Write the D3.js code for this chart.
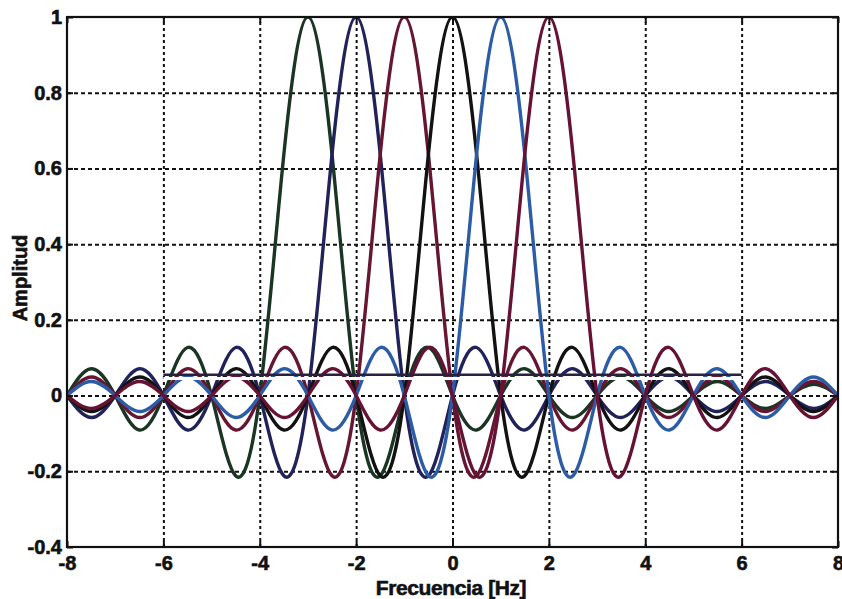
<!DOCTYPE html>
<html>
<head>
<meta charset="utf-8">
<script src="https://cdn.jsdelivr.net/npm/d3@7"></script>
<style>
  html, body { margin: 0; padding: 0; background: #fff; overflow: hidden; }
  svg text { font-family: "Liberation Sans", Arial, sans-serif; font-weight: bold; fill: #111; stroke: #111; stroke-width: 0.6px; }
</style>
</head>
<body>
<div class="container"></div>
<script>
var w = 842;
var h = 599;

// sample frequencies (Hz)
const freq = [-8,-7.5,-7,-6.5,-6,-5.5,-5,-4.5,-4,-3.5,-3,-2.5,-2,-1.5,-1,-0.5,0,0.5,1,1.5,2,2.5,3,3.5,4,4.5,5,5.5,6,6.5,7,7.5,8];

// amplitude of each curve (peaks at -3 .. 2 Hz)
const ampM3 = [0,0.071,0,-0.091,0,0.127,0,-0.212,0,0.637,1,0.637,0,-0.212,0,0.127,0,-0.091,0,0.071,0,-0.058,0,0.049,0,-0.042,0,0.037,0,-0.034,0,0.030,0];
const ampM2 = [0,-0.058,0,0.071,0,-0.091,0,0.127,0,-0.212,0,0.637,1,0.637,0,-0.212,0,0.127,0,-0.091,0,0.071,0,-0.058,0,0.049,0,-0.042,0,0.037,0,-0.034,0];
const ampM1 = [0,0.049,0,-0.058,0,0.071,0,-0.091,0,0.127,0,-0.212,0,0.637,1,0.637,0,-0.212,0,0.127,0,-0.091,0,0.071,0,-0.058,0,0.049,0,-0.042,0,0.037,0];
const amp0  = [0,-0.042,0,0.049,0,-0.058,0,0.071,0,-0.091,0,0.127,0,-0.212,0,0.637,1,0.637,0,-0.212,0,0.127,0,-0.091,0,0.071,0,-0.058,0,0.049,0,-0.042,0];
const amp1  = [0,0.037,0,-0.042,0,0.049,0,-0.058,0,0.071,0,-0.091,0,0.127,0,-0.212,0,0.637,1,0.637,0,-0.212,0,0.127,0,-0.091,0,0.071,0,-0.058,0,0.049,0];
const amp2  = [0,-0.034,0,0.037,0,-0.042,0,0.049,0,-0.058,0,0.071,0,-0.091,0,0.127,0,-0.212,0,0.637,1,0.637,0,-0.212,0,0.127,0,-0.091,0,0.071,0,-0.058,0];

const seriesList = [ampM3, ampM2, ampM1, amp0, amp1, amp2];
const seriesColors = ["#1a3524", "#22225a", "#661630", "#121212", "#2c5ca6", "#661234"];

// the horizontal level line (two-tone) from -6 to 6 Hz
const levelX = [-6, 6];
const levelDark = 0.055;
const levelWhite = 0.045;

const xTicks = [-8,-6,-4,-2,0,2,4,6,8];
const yTicks = [-0.4,-0.2,0,0.2,0.4,0.6,0.8,1];

const pLeft = 67, pRight = 838, pTop = 17, pBottom = 547;

var svg = d3.select(".container")
  .append("svg")
  .attr("width", w)
  .attr("height", h);

svg.append("rect")
  .attr("width", w).attr("height", h)
  .attr("fill", "#fff");

var xScale = d3.scaleLinear().domain([-8, 8]).range([pLeft, pRight]);
var yScale = d3.scaleLinear().domain([-0.4, 1]).range([pBottom, pTop]);

// grid
svg.append("g")
  .attr("transform", "translate(0," + pBottom + ")")
  .call(d3.axisBottom(xScale).tickValues(xTicks.slice(1, -1)).tickSize(-(pBottom - pTop)).tickFormat(""))
  .call(g => g.select(".domain").remove())
  .call(g => g.selectAll("line").attr("stroke", "#111").attr("stroke-width", 2).attr("stroke-dasharray", "3,3"));

svg.append("g")
  .attr("transform", "translate(" + pLeft + ",0)")
  .call(d3.axisLeft(yScale).tickValues(yTicks.slice(1, -1)).tickSize(-(pRight - pLeft)).tickFormat(""))
  .call(g => g.select(".domain").remove())
  .call(g => g.selectAll("line").attr("stroke", "#111").attr("stroke-width", 2).attr("stroke-dasharray", "4,3"));

// curves
svg.append("clipPath").attr("id", "plotClip")
  .append("rect")
  .attr("x", pLeft).attr("y", pTop)
  .attr("width", pRight - pLeft).attr("height", pBottom - pTop);

var line = d3.line()
  .x((d, i) => xScale(freq[i]))
  .y(d => yScale(d))
  .curve(d3.curveNatural);

var curves = svg.append("g").attr("clip-path", "url(#plotClip)");

curves.selectAll("path.sinc")
  .data(seriesList)
  .enter()
  .append("path")
  .attr("class", "sinc")
  .attr("d", d => line(d))
  .attr("fill", "none")
  .attr("stroke", (d, i) => seriesColors[i])
  .attr("stroke-width", 3.4)
  .attr("stroke-linejoin", "round");

// level line
curves.append("line")
  .attr("x1", xScale(levelX[0])).attr("x2", xScale(levelX[1]))
  .attr("y1", yScale(levelWhite)).attr("y2", yScale(levelWhite))
  .attr("stroke", "#fff").attr("stroke-width", 3);

curves.append("line")
  .attr("x1", xScale(levelX[0])).attr("x2", xScale(levelX[1]))
  .attr("y1", yScale(levelDark)).attr("y2", yScale(levelDark))
  .attr("stroke", "#2a2040").attr("stroke-width", 2.5);

// axes with inward ticks
var fmt = d => String(d);

svg.append("g")
  .attr("transform", "translate(0," + pBottom + ")")
  .call(d3.axisBottom(xScale).tickValues(xTicks).tickSize(-6).tickPadding(9).tickFormat(fmt))
  .call(g => g.select(".domain").remove())
  .call(g => g.selectAll("line").attr("stroke", "#111").attr("stroke-width", 2))
  .call(g => g.selectAll("text").attr("font-size", 20));

svg.append("g")
  .attr("transform", "translate(" + pLeft + ",0)")
  .call(d3.axisLeft(yScale).tickValues(yTicks).tickSize(-6).tickPadding(5).tickFormat(fmt))
  .call(g => g.select(".domain").remove())
  .call(g => g.selectAll("line").attr("stroke", "#111").attr("stroke-width", 2))
  .call(g => g.selectAll("text").attr("font-size", 20));

svg.append("g")
  .attr("transform", "translate(0," + pTop + ")")
  .call(d3.axisTop(xScale).tickValues(xTicks).tickSize(-6).tickFormat(""))
  .call(g => g.select(".domain").remove())
  .call(g => g.selectAll("line").attr("stroke", "#111").attr("stroke-width", 2));

svg.append("g")
  .attr("transform", "translate(" + pRight + ",0)")
  .call(d3.axisRight(yScale).tickValues(yTicks).tickSize(-6).tickFormat(""))
  .call(g => g.select(".domain").remove())
  .call(g => g.selectAll("line").attr("stroke", "#111").attr("stroke-width", 2));

// frame
svg.append("rect")
  .attr("x", pLeft).attr("y", pTop)
  .attr("width", pRight - pLeft).attr("height", pBottom - pTop)
  .attr("fill", "none")
  .attr("stroke", "#111")
  .attr("stroke-width", 2.2);

// labels
svg.append("text")
  .attr("x", 451)
  .attr("y", 595)
  .attr("text-anchor", "middle")
  .attr("font-size", 21)
  .attr("letter-spacing", -0.4)
  .text("Frecuencia [Hz]");

svg.append("text")
  .attr("transform", "translate(27,278) rotate(-90)")
  .attr("text-anchor", "middle")
  .attr("font-size", 20)
  .text("Amplitud");
</script>
</body>
</html>
